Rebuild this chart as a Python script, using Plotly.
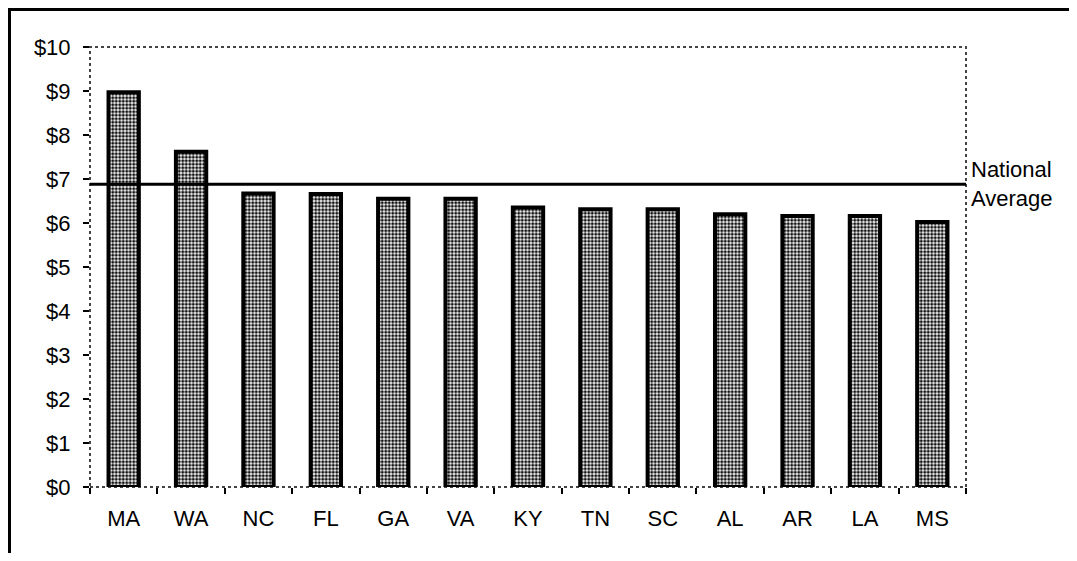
import plotly.graph_objects as go

# Chart data
states = ["MA", "WA", "NC", "FL", "GA", "VA", "KY", "TN", "SC", "AL", "AR", "LA", "MS"]
values = [8.97, 7.62, 6.67, 6.66, 6.55, 6.55, 6.35, 6.31, 6.31, 6.20, 6.16, 6.16, 6.02]
national_average = 6.88
y_ticks = [0, 1, 2, 3, 4, 5, 6, 7, 8, 9, 10]
y_tick_labels = [f"${v}" for v in y_ticks]

# page body has an 8px margin on every side, so the figure is shrunk to fit
OFF = 8
W, H = 1077 - 2 * OFF, 561 - 2 * OFF
ML, MT = 90 - OFF, 47 - OFF
MR = W - (966 - OFF)
MB = H - (487 - OFF)
FONT = dict(family="Liberation Sans, Arial, sans-serif", size=22, color="black")


def px_x(x):
    """Page pixel x -> paper coordinate."""
    return (x - OFF - ML) / (W - ML - MR)


def px_y(y):
    """Page pixel y (from top) -> paper coordinate."""
    return (H - MB - (y - OFF)) / (H - MT - MB)


fig = go.Figure()

fig.add_trace(go.Bar(
    x=states,
    y=values,
    marker=dict(
        color="white",
        line=dict(color="black", width=4),
        pattern=dict(shape=".", bgcolor="white", fgcolor="#111",
                     size=3.5, solidity=0.6, fillmode="replace"),
    ),
    width=0.45,
    showlegend=False,
    hoverinfo="skip",
))

# National average line across the plot area
fig.add_shape(type="line", xref="paper", yref="y",
              x0=0, x1=1, y0=national_average, y1=national_average,
              line=dict(color="black", width=3))

fig.add_annotation(
    text="National<br>Average", xref="paper", yref="y",
    x=px_x(969), y=national_average, xanchor="left", yanchor="middle",
    showarrow=False, align="left", font=FONT,
)

# Dotted plot-area border
fig.add_shape(type="rect", xref="paper", yref="paper", x0=0, x1=1, y0=0, y1=1,
              line=dict(color="#444", width=2, dash="dot"), layer="below")

# Outer chart frame: only top and left edges are visible
frame = dict(color="black", width=3)
fig.add_shape(type="line", xref="paper", yref="paper",
              x0=px_x(8), x1=px_x(W + OFF), y0=px_y(9.5), y1=px_y(9.5), line=frame)
fig.add_shape(type="line", xref="paper", yref="paper",
              x0=px_x(9.5), x1=px_x(9.5), y0=px_y(9.5), y1=px_y(H + OFF), line=frame)

fig.update_layout(
    width=W, height=H,
    margin=dict(l=ML, r=MR, t=MT, b=MB),
    paper_bgcolor="white", plot_bgcolor="white",
    font=FONT,
    bargap=0.55,
    xaxis=dict(
        type="category", showgrid=False, zeroline=False, showline=False,
        ticks="outside", tickson="boundaries", ticklen=6, tickwidth=2,
        tickcolor="black", ticklabelstandoff=16,
    ),
    yaxis=dict(
        range=[0, 10], tickvals=y_ticks, ticktext=y_tick_labels,
        showgrid=False, zeroline=False, showline=False,
        ticks="outside", ticklen=6, tickwidth=2, tickcolor="black",
        ticklabelstandoff=8,
    ),
)

fig.write_html("out.html")
